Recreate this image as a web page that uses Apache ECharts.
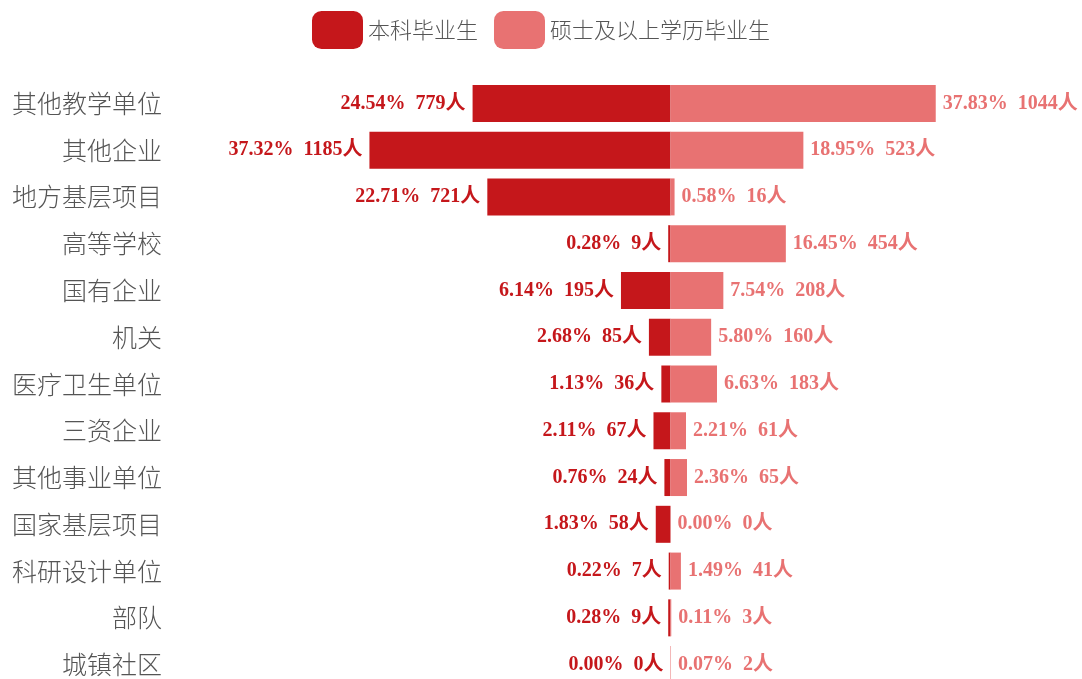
<!DOCTYPE html>
<html>
<head>
<meta charset="utf-8">
<script src="https://cdn.jsdelivr.net/npm/echarts@6/dist/echarts.min.js"></script>
<style>
  html, body { margin: 0; padding: 0; background: #fff; }
  #main { width: 1082px; height: 679px; }
</style>
</head>
<body>
<div id="main"></div>
<script>
// 单位类别
var categories = ['其他教学单位', '其他企业', '地方基层项目', '高等学校', '国有企业', '机关', '医疗卫生单位', '三资企业', '其他事业单位', '国家基层项目', '科研设计单位', '部队', '城镇社区'];
// 本科毕业生
var bkCount = [779, 1185, 721, 9, 195, 85, 36, 67, 24, 58, 7, 9, 0];
var bkPct = ['24.54', '37.32', '22.71', '0.28', '6.14', '2.68', '1.13', '2.11', '0.76', '1.83', '0.22', '0.28', '0.00'];
// 硕士及以上学历毕业生
var ssCount = [1044, 523, 16, 454, 208, 160, 183, 61, 65, 0, 41, 3, 2];
var ssPct = ['37.83', '18.95', '0.58', '16.45', '7.54', '5.80', '6.63', '2.21', '2.36', '0.00', '1.49', '0.11', '0.07'];

var darkRed = '#c5171b';
var lightRed = '#e87272';
var labelFont = '"Liberation Serif", "Times New Roman", "Noto Sans CJK SC", serif';

var chart = echarts.init(document.getElementById('main'));
chart.setOption({
  animation: false,
  legend: {
    top: 6,
    left: 'center',
    icon: 'roundRect',
    itemWidth: 51,
    itemHeight: 38,
    itemGap: 16,
    textStyle: {
      fontSize: 22,
      color: '#555',
      fontFamily: '"Noto Sans CJK SC", sans-serif',
      fontWeight: 300
    },
    data: ['本科毕业生', '硕士及以上学历毕业生']
  },
  grid: {
    left: 264,
    right: 5,
    top: 80,
    height: 608,
    outerBoundsMode: 'none'
  },
  xAxis: {
    type: 'value',
    min: -1600,
    max: 1600,
    show: false
  },
  yAxis: {
    type: 'category',
    inverse: true,
    data: categories,
    axisLine: { show: false },
    axisTick: { show: false },
    axisLabel: {
      margin: 102,
      fontSize: 25,
      color: '#555',
      fontFamily: '"Noto Sans CJK SC", sans-serif',
      fontWeight: 300
    }
  },
  series: [{
    name: '本科毕业生',
    type: 'bar',
    barWidth: 37,
    barGap: '-100%',
    itemStyle: { color: darkRed },
    data: bkCount.map(function (v) { return -v; }),
    label: {
      show: true,
      position: 'left',
      distance: 7,
      color: darkRed,
      fontSize: 20,
      fontWeight: 'bold',
      fontFamily: labelFont,
      formatter: function (p) {
        return bkPct[p.dataIndex] + '%  ' + bkCount[p.dataIndex] + '人';
      }
    }
  }, {
    name: '硕士及以上学历毕业生',
    type: 'bar',
    barWidth: 37,
    barGap: '-100%',
    itemStyle: { color: lightRed },
    data: ssCount,
    label: {
      show: true,
      position: 'right',
      distance: 7,
      color: lightRed,
      fontSize: 20,
      fontWeight: 'bold',
      fontFamily: labelFont,
      formatter: function (p) {
        return ssPct[p.dataIndex] + '%  ' + ssCount[p.dataIndex] + '人';
      }
    }
  }]
});
</script>
</body>
</html>
